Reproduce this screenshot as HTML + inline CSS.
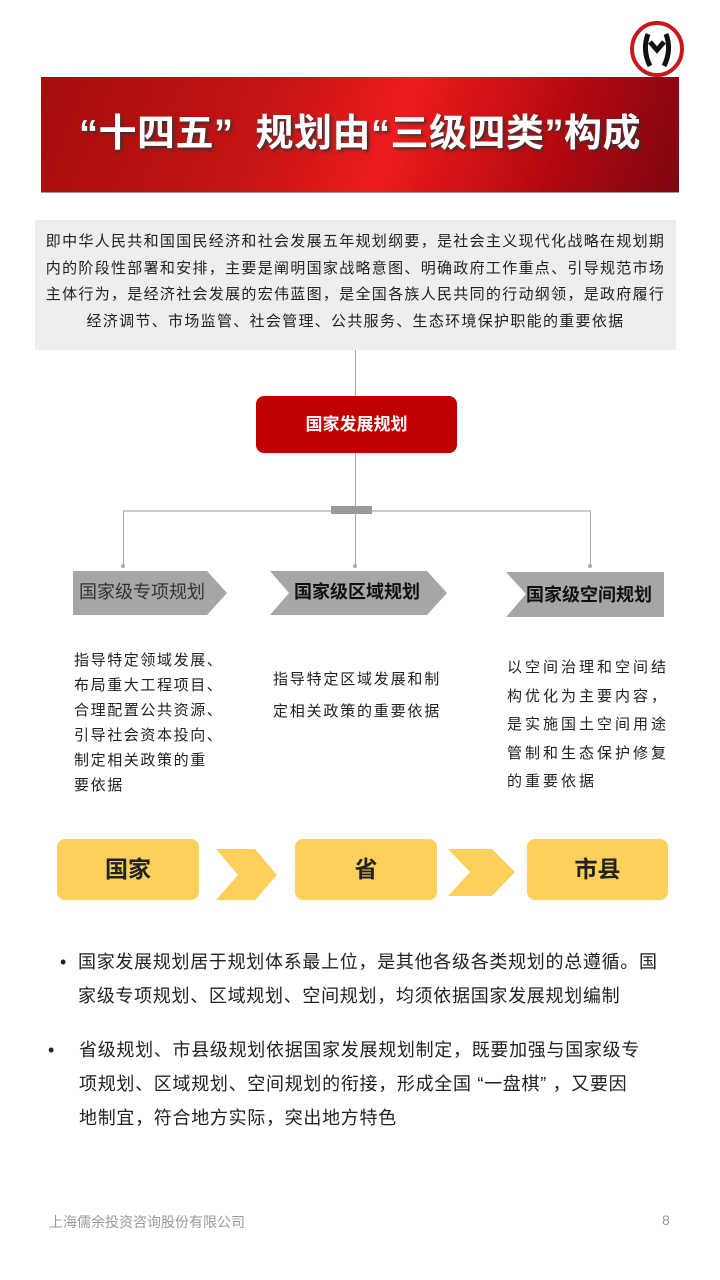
<!DOCTYPE html>
<html><head><meta charset="utf-8"><style>
body{margin:0;width:720px;height:1280px;background:#fff;position:relative;overflow:hidden;font-family:"Liberation Sans","Noto Sans CJK SC",sans-serif}
.a{position:absolute;white-space:nowrap}
.t{font-size:15px;color:#222;line-height:25px;letter-spacing:1.5px}
.y{position:absolute;top:839px;height:61px;background:#fcd05a;border-radius:8px;font-size:23px;font-weight:bold;color:#222;text-align:center;line-height:61px}
</style></head><body>
<svg class="a" style="left:628px;top:20px" width="58" height="58" viewBox="0 0 58 58"><ellipse cx="29" cy="29" rx="25" ry="26" fill="#fff" stroke="#c8191d" stroke-width="4"/><path d="M20 14 Q14 30 22 46 M38 14 Q44 30 36 46 M22 22 L29 30 L36 22" stroke="#111" stroke-width="5" fill="none"/></svg>
<div class="a" style="left:41px;top:77px;width:638px;height:115px;background:linear-gradient(110deg,#a50d0d 0%,#c51414 35%,#ee1c1c 55%,#b3080f 80%,#7e0712 100%);border-bottom:1px solid #999"></div>
<div class="a" style="left:41px;top:106px;width:638px;text-align:center;font-size:38px;font-weight:bold;color:#fff;text-shadow:2px 2px 3px #333;line-height:56px;letter-spacing:0.5px">“十四五”&nbsp; 规划由“三级四类”构成</div>
<div class="a" style="left:35px;top:220px;width:641px;height:130px;background:#eeeeee"></div>
<div class="a t" style="left:35px;top:229px;width:641px;text-align:center;line-height:26.5px;letter-spacing:1.3px">即中华人民共和国国民经济和社会发展五年规划纲要，是社会主义现代化战略在规划期<br>内的阶段性部署和安排，主要是阐明国家战略意图、明确政府工作重点、引导规范市场<br>主体行为，是经济社会发展的宏伟蓝图，是全国各族人民共同的行动纲领，是政府履行<br>经济调节、市场监管、社会管理、公共服务、生态环境保护职能的重要依据</div>
<div class="a" style="left:355px;top:350px;width:1px;height:46px;background:#aaa"></div>
<div class="a" style="left:256px;top:396px;width:201px;height:57px;background:#c00000;border-radius:8px;color:#fff;font-size:17px;font-weight:bold;text-align:center;line-height:57px">国家发展规划</div>
<div class="a" style="left:355px;top:453px;width:1px;height:113px;background:#aaa"></div>
<div class="a" style="left:123px;top:510px;width:468px;height:2px;background:#ccc"></div>
<div class="a" style="left:331px;top:506px;width:41px;height:8px;background:#9a9a9a"></div>
<div class="a" style="left:123px;top:511px;width:1px;height:55px;background:#aaa"></div>
<div class="a" style="left:590px;top:511px;width:1px;height:55px;background:#aaa"></div>
<div class="a" style="left:121px;top:564px;width:4px;height:4px;border-radius:2px;background:#aaa"></div>
<div class="a" style="left:353px;top:564px;width:4px;height:4px;border-radius:2px;background:#aaa"></div>
<div class="a" style="left:588px;top:564px;width:4px;height:4px;border-radius:2px;background:#aaa"></div>
<svg class="a" style="left:0;top:0" width="720" height="1280">
<polygon points="73,571 207,571 227,593 207,615 73,615" fill="#a6a6a6"/>
<polygon points="270,571 427,571 447,593 427,615 270,615 289,593" fill="#a6a6a6"/>
<polygon points="506,572 664,572 664,617 506,617 526,594" fill="#a6a6a6"/>
<polygon points="216,849 255,849 277,875 255,900 216,900 238,875" fill="#fcd05a"/>
<polygon points="448,849 492,849 515,872 492,896 448,896 470,872" fill="#fcd05a"/>
</svg>
<div class="a" style="left:79px;top:579px;font-size:18px;color:#333;line-height:26px">国家级专项规划</div>
<div class="a" style="left:294px;top:579px;font-size:18px;font-weight:bold;color:#111;line-height:26px">国家级区域规划</div>
<div class="a" style="left:526px;top:582px;font-size:18px;font-weight:bold;color:#111;line-height:26px">国家级空间规划</div>
<div class="a t" style="left:74px;top:648px;letter-spacing:1.6px">指导特定领域发展、<br>布局重大工程项目、<br>合理配置公共资源、<br>引导社会资本投向、<br>制定相关政策的重<br>要依据</div>
<div class="a t" style="left:273px;top:664px;line-height:32px;letter-spacing:1.8px">指导特定区域发展和制<br>定相关政策的重要依据</div>
<div class="a t" style="left:507px;top:654px;letter-spacing:3px;line-height:28.5px">以空间治理和空间结<br>构优化为主要内容，<br>是实施国土空间用途<br>管制和生态保护修复<br>的重要依据</div>
<div class="y" style="left:57px;width:142px">国家</div>
<div class="y" style="left:295px;width:142px">省</div>
<div class="y" style="left:527px;width:141px">市县</div>
<div class="a" style="left:60px;top:945px;font-size:18px;color:#222;line-height:34px">•</div>
<div class="a" style="left:78px;top:945px;font-size:18px;color:#222;line-height:34px;letter-spacing:0.7px">国家发展规划居于规划体系最上位，是其他各级各类规划的总遵循。国<br>家级专项规划、区域规划、空间规划，均须依据国家发展规划编制</div>
<div class="a" style="left:48px;top:1033px;font-size:18px;color:#222;line-height:34px">•</div>
<div class="a" style="left:79px;top:1033px;font-size:18px;color:#222;line-height:34px;letter-spacing:0.7px">省级规划、市县级规划依据国家发展规划制定，既要加强与国家级专<br>项规划、区域规划、空间规划的衔接，形成全国 “一盘棋” ，又要因<br>地制宜，符合地方实际，突出地方特色</div>
<div class="a" style="left:49px;top:1212px;font-size:14px;color:#999">上海儒余投资咨询股份有限公司</div>
<div class="a" style="left:662px;top:1212px;font-size:14px;color:#999">8</div>
</body></html>
